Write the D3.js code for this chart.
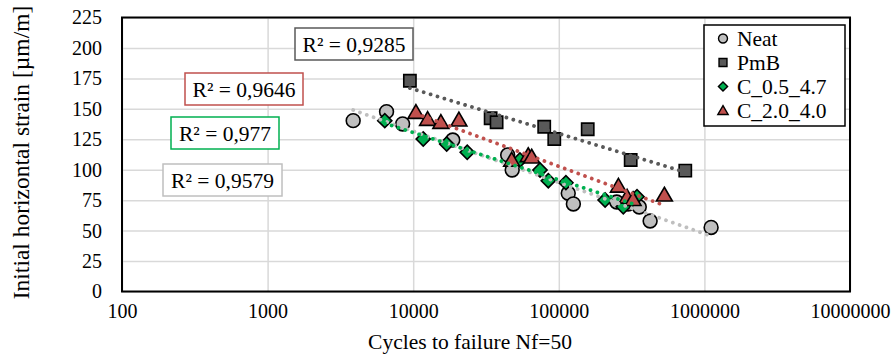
<!DOCTYPE html>
<html>
<head>
<meta charset="utf-8">
<script src="https://cdn.jsdelivr.net/npm/d3@7"></script>
<style>
  html, body { margin: 0; padding: 0; background: #fff; }
  svg { display: block; font-family: "Liberation Serif", "Times New Roman", serif; }
</style>
</head>
<body>
<svg id="chart" width="894" height="357"></svg>
<script>
// Neat
const neatCycles = [3870, 6560, 8460, 18700, 44550, 47860, 116100, 125900, 249800, 299000, 357000, 423800, 1112000];
const neatStrain = [140.3, 147.7, 137.6, 124.4, 112.1, 99.8, 80.7, 71.9, 73.5, 71.9, 69.4, 57.9, 52.6];
// PmB
const pmbCycles = [9490, 34030, 37400, 79400, 93100, 158000, 311700, 739000];
const pmbStrain = [173.1, 142.3, 139.0, 135.3, 125.2, 133.2, 108.0, 99.2];
// C_0.5_4.7
const c05Cycles = [6380, 11720, 16980, 23500, 54080, 74300, 84700, 111900, 208000, 277300, 344500];
const c05Strain = [140.3, 125.2, 121.1, 114.3, 108.0, 99.8, 91.0, 89.4, 75.1, 69.6, 77.9];
// C_2.0_4.0
const c20Cycles = [10440, 12560, 15490, 20600, 47460, 61630, 65100, 256700, 294600, 323700, 531000];
const c20Strain = [147.2, 141.4, 139.0, 140.9, 108.0, 111.7, 110.5, 86.6, 77.6, 75.6, 79.3];

const seriesNames = ["Neat", "PmB", "C_0.5_4.7", "C_2.0_4.0"];
const r2Labels = ["R² = 0,9579", "R² = 0,9285", "R² = 0,977", "R² = 0,9646"];

const xTicks = [100, 1000, 10000, 100000, 1000000, 10000000];
const yTicks = [0, 25, 50, 75, 100, 125, 150, 175, 200, 225];

const xTitle = "Cycles to failure Nf=50";
const yTitle = "Initial horizontal strain [µm/m]";

const series = [
  { name: seriesNames[0], x: neatCycles, y: neatStrain, shape: "circle", fill: "#bfbfbf", line: "#bfbfbf", r2: r2Labels[0], box: [163, 164, 119] },
  { name: seriesNames[1], x: pmbCycles, y: pmbStrain, shape: "square", fill: "#595959", line: "#595959", r2: r2Labels[1], box: [295, 28, 118] },
  { name: seriesNames[2], x: c05Cycles, y: c05Strain, shape: "diamond", fill: "#00b050", line: "#00b050", r2: r2Labels[2], box: [171, 117, 108] },
  { name: seriesNames[3], x: c20Cycles, y: c20Strain, shape: "triangle", fill: "#c0504d", line: "#c0504d", r2: r2Labels[3], box: [185, 73, 118] }
];

const svg = d3.select("#chart");
const margin = { top: 17.5, right: 44, bottom: 65.5, left: 122 };
const width = 894 - margin.left - margin.right;
const height = 357 - margin.top - margin.bottom;

const x = d3.scaleLog().domain([100, 10000000]).range([0, width]);
const y = d3.scaleLinear().domain([0, 225]).range([height, 0]);

const chart = svg.append("g").attr("transform", `translate(${margin.left},${margin.top})`);

// gridlines
chart.append("g")
  .call(d3.axisLeft(y).tickValues(yTicks).tickSize(-width).tickFormat(""))
  .call(g => g.select(".domain").remove())
  .call(g => g.selectAll("line").attr("stroke", "#d9d9d9").attr("stroke-width", 1.5));
chart.append("g")
  .attr("transform", `translate(0,${height})`)
  .call(d3.axisBottom(x).tickValues(xTicks).tickSize(height).tickFormat(""))
  .call(g => g.select(".domain").remove())
  .call(g => g.selectAll("line").attr("transform", `translate(0,${-height})`).attr("stroke", "#d9d9d9").attr("stroke-width", 1.5));

// tick labels
chart.append("g")
  .call(d3.axisLeft(y).tickValues(yTicks).tickSize(0).tickPadding(20).tickFormat(d3.format("d")))
  .call(g => g.select(".domain").remove())
  .call(g => g.selectAll("text").attr("font-size", 20).attr("fill", "#000").attr("font-family", "Liberation Serif"));
chart.append("g")
  .attr("transform", `translate(0,${height})`)
  .call(d3.axisBottom(x).tickValues(xTicks).tickSize(0).tickPadding(12).tickFormat(d3.format("d")))
  .call(g => g.select(".domain").remove())
  .call(g => g.selectAll("text").attr("font-size", 20).attr("fill", "#000").attr("font-family", "Liberation Serif"));

// markers
const symbolType = { circle: d3.symbolCircle, square: d3.symbolSquare, diamond: d3.symbolSquare, triangle: d3.symbolTriangle };
const symbolSize = { circle: 150, square: 150, diamond: 100, triangle: 110 };
const symbolRotate = { circle: 0, square: 0, diamond: 45, triangle: 0 };

series.forEach(s => {
  const pts = s.x.map((v, i) => [v, s.y[i]]);
  chart.append("g").selectAll("path")
    .data(pts)
    .enter()
    .append("path")
    .attr("transform", d => `translate(${x(d[0])},${y(d[1]) + (s.shape === "triangle" ? 1.5 : 0)}) rotate(${symbolRotate[s.shape]})`)
    .attr("d", d3.symbol().type(symbolType[s.shape]).size(symbolSize[s.shape]))
    .attr("fill", s.fill)
    .attr("stroke", "#000")
    .attr("stroke-width", 1.6);
});

// logarithmic trendlines (least squares on ln x)
series.forEach(s => {
  const lx = s.x.map(v => Math.log(v));
  const mx = d3.mean(lx), my = d3.mean(s.y);
  const a = d3.sum(lx.map((v, i) => (v - mx) * (s.y[i] - my))) / d3.sum(lx.map(v => (v - mx) * (v - mx)));
  const b = my - a * mx;
  const ends = d3.extent(s.x);
  chart.append("line")
    .attr("x1", x(ends[0])).attr("y1", y(a * Math.log(ends[0]) + b))
    .attr("x2", x(ends[1])).attr("y2", y(a * Math.log(ends[1]) + b))
    .attr("stroke", s.line)
    .attr("stroke-width", 3.8)
    .attr("stroke-linecap", "round")
    .attr("stroke-dasharray", "0.01 7.2");
});

// plot border
chart.append("rect")
  .attr("width", width).attr("height", height)
  .attr("fill", "none").attr("stroke", "#000").attr("stroke-width", 2);

// R² labels
series.forEach(s => {
  const g = svg.append("g").attr("transform", `translate(${s.box[0]},${s.box[1]})`);
  g.append("rect").attr("width", s.box[2]).attr("height", 32)
    .attr("fill", "#fff").attr("stroke", s.line).attr("stroke-width", 1.5);
  g.append("text").attr("x", s.box[2] / 2).attr("y", 23.5).attr("text-anchor", "middle")
    .attr("font-size", 21.5).attr("fill", "#000").text(s.r2);
});

// legend
const legend = svg.append("g").attr("transform", "translate(704,25)");
legend.append("rect").attr("width", 141).attr("height", 101)
  .attr("fill", "#fff").attr("stroke", "#000").attr("stroke-width", 1.5);
series.forEach((s, i) => {
  const row = legend.append("g").attr("transform", `translate(19,${13.5 + i * 24})`);
  row.append("path")
    .attr("transform", `translate(0,${s.shape === "triangle" ? 1 : 0}) rotate(${symbolRotate[s.shape]})`)
    .attr("d", d3.symbol().type(symbolType[s.shape]).size(symbolSize[s.shape] * 0.42))
    .attr("fill", s.fill).attr("stroke", "#000").attr("stroke-width", 1.4);
  row.append("text").attr("x", 14).attr("y", 7)
    .attr("font-size", 21.5).attr("fill", "#000").text(s.name);
});

// axis titles
svg.append("text")
  .attr("x", 470).attr("y", 349)
  .attr("text-anchor", "middle").attr("font-size", 21.5).attr("fill", "#000")
  .text(xTitle);
svg.append("text")
  .attr("transform", `translate(29,${margin.top + height / 2 - 2}) rotate(-90)`)
  .attr("text-anchor", "middle").attr("font-size", 23.5).attr("fill", "#000")
  .text(yTitle);
</script>
</body>
</html>
